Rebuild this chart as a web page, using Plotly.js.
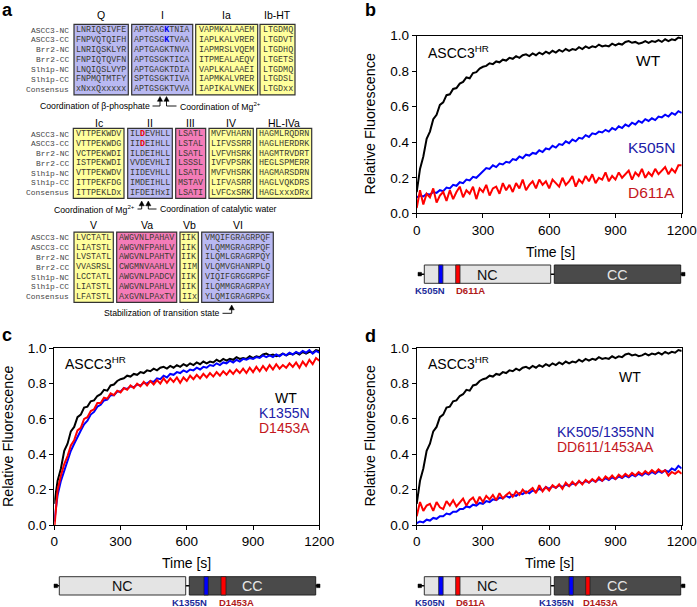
<!DOCTYPE html>
<html><head><meta charset="utf-8">
<script src="https://cdn.plot.ly/plotly-3.0.1.min.js"></script>
<style>html,body{margin:0;padding:0;background:#fff}#chart{width:697px;height:607px}</style>
</head><body><div id="chart"></div>
<script>
// ---------------- DATA ----------------
const time = [0,15,30,45,60,75,90,105,120,135,
150,165,180,195,210,225,240,255,270,285,
300,315,330,345,360,375,390,405,420,435,
450,465,480,495,510,525,540,555,570,585,
600,615,630,645,660,675,690,705,720,735,
750,765,780,795,810,825,840,855,870,885,
900,915,930,945,960,975,990,1005,1020,1035,
1050,1065,1080,1095,1110,1125,1140,1155,1170,1185,
1200];

const wt = [0.12,0.25,0.32,0.42,0.46,0.53,0.555,0.61,0.625,0.665,
0.67,0.70,0.705,0.73,0.74,0.765,0.76,0.79,0.795,0.815,
0.825,0.83,0.845,0.84,0.855,0.85,0.865,0.86,0.875,0.87,
0.885,0.875,0.89,0.895,0.885,0.90,0.89,0.905,0.895,0.91,
0.90,0.915,0.905,0.92,0.91,0.925,0.915,0.925,0.92,0.935,
0.925,0.94,0.93,0.94,0.935,0.95,0.94,0.945,0.94,0.955,
0.945,0.955,0.95,0.965,0.97,0.96,0.965,0.955,0.96,0.97,
0.96,0.97,0.965,0.975,0.965,0.98,0.97,0.98,0.975,0.99,
0.985];

const k505n = [0.09,0.10,0.095,0.11,0.105,0.12,0.115,0.13,0.125,0.145,
0.14,0.16,0.155,0.175,0.17,0.19,0.185,0.205,0.20,0.22,
0.235,0.255,0.25,0.27,0.26,0.28,0.275,0.29,0.285,0.305,
0.30,0.32,0.31,0.33,0.325,0.34,0.335,0.355,0.345,0.365,
0.36,0.38,0.37,0.39,0.385,0.405,0.395,0.415,0.405,0.425,
0.42,0.44,0.43,0.45,0.445,0.46,0.455,0.47,0.46,0.48,
0.47,0.49,0.48,0.50,0.49,0.51,0.50,0.52,0.51,0.53,
0.52,0.535,0.525,0.545,0.54,0.555,0.545,0.565,0.555,0.575,
0.565];

const d611a = [0.03,0.13,0.05,0.11,0.09,0.14,0.06,0.10,0.12,0.07,
0.13,0.08,0.12,0.15,0.09,0.13,0.11,0.15,0.08,0.14,
0.12,0.16,0.10,0.14,0.15,0.11,0.17,0.13,0.16,0.12,
0.17,0.14,0.19,0.13,0.16,0.18,0.14,0.19,0.16,0.18,
0.14,0.19,0.17,0.15,0.20,0.16,0.18,0.21,0.15,0.19,
0.17,0.21,0.18,0.22,0.17,0.20,0.19,0.23,0.18,0.21,
0.19,0.23,0.20,0.22,0.24,0.19,0.23,0.21,0.25,0.20,
0.23,0.21,0.25,0.22,0.24,0.26,0.22,0.25,0.23,0.27,
0.27];

const k1355n = [0.02,0.17,0.25,0.31,0.37,0.42,0.46,0.50,0.535,0.57,
0.59,0.625,0.64,0.67,0.68,0.705,0.71,0.735,0.735,0.755,
0.755,0.775,0.77,0.785,0.78,0.795,0.79,0.805,0.80,0.815,
0.81,0.83,0.825,0.845,0.835,0.855,0.85,0.865,0.86,0.875,
0.865,0.88,0.875,0.89,0.88,0.895,0.89,0.905,0.90,0.915,
0.905,0.92,0.915,0.93,0.92,0.935,0.925,0.94,0.935,0.945,
0.94,0.95,0.945,0.96,0.95,0.96,0.95,0.965,0.955,0.97,
0.96,0.975,0.965,0.98,0.97,0.985,0.975,0.99,0.97,0.985,
0.975];

const d1453a = [-0.02,0.20,0.28,0.345,0.39,0.45,0.48,0.535,0.55,0.60,
0.61,0.645,0.655,0.69,0.69,0.72,0.715,0.745,0.735,0.76,
0.75,0.775,0.765,0.79,0.775,0.80,0.785,0.81,0.79,0.815,
0.795,0.82,0.80,0.83,0.805,0.83,0.81,0.835,0.805,0.835,
0.815,0.845,0.825,0.85,0.83,0.855,0.835,0.86,0.84,0.865,
0.845,0.87,0.85,0.875,0.855,0.88,0.86,0.885,0.86,0.89,
0.865,0.895,0.87,0.90,0.875,0.905,0.88,0.91,0.885,0.905,
0.89,0.915,0.895,0.92,0.89,0.925,0.90,0.935,0.91,0.945,
0.93];

const kk505_1355nn = [0.01,0.02,0.015,0.03,0.025,0.04,0.035,0.05,0.05,0.065,
0.06,0.075,0.075,0.09,0.09,0.105,0.10,0.115,0.11,0.125,
0.12,0.135,0.13,0.145,0.14,0.155,0.15,0.165,0.155,0.17,
0.165,0.18,0.175,0.19,0.18,0.195,0.19,0.205,0.195,0.215,
0.205,0.22,0.21,0.225,0.215,0.23,0.22,0.235,0.23,0.245,
0.235,0.25,0.24,0.255,0.245,0.26,0.25,0.265,0.255,0.27,
0.26,0.275,0.265,0.28,0.27,0.285,0.275,0.29,0.28,0.295,
0.285,0.30,0.29,0.305,0.295,0.31,0.30,0.32,0.31,0.335,
0.32];

const dd611_1453aa = [0.05,0.13,0.08,0.11,0.12,0.08,0.13,0.10,0.09,0.135,
0.11,0.14,0.105,0.13,0.15,0.11,0.14,0.155,0.12,0.16,
0.13,0.165,0.145,0.17,0.14,0.18,0.15,0.17,0.185,0.16,
0.19,0.17,0.20,0.18,0.195,0.21,0.18,0.225,0.19,0.215,
0.195,0.225,0.21,0.23,0.205,0.24,0.22,0.245,0.225,0.25,
0.23,0.255,0.24,0.26,0.245,0.27,0.25,0.275,0.26,0.28,
0.26,0.285,0.27,0.29,0.275,0.295,0.28,0.30,0.285,0.305,
0.29,0.31,0.295,0.315,0.30,0.31,0.28,0.30,0.29,0.305,
0.29];

const xTicks = [0,300,600,900,1200];
const yTicks = [0,0.2,0.4,0.6,0.8,1.0];

// alignment (panel a)
const rowNames = ["ASCC3-NC","ASCC3-CC","Brr2-NC","Brr2-CC","Slh1p-NC","Slh1p-CC","Consensus"];
const motifNames = ["Q","I","Ia","Ib-HT","Ic","II","III","IV","HL-IVa","V","Va","Vb","VI"];
const seqQ = ["LNRIQSIVFE","FNPVQTQIFH","LNRIQSKLYR","FNPIQTQVFN","LNQIQSLVYP","FNPMQTMTFY","xNxxQxxxxx"];
const seqI = ["APTGAGKTNIA","APTGSGKTVAA","APTGAGKTNVA","APTGSGKTICA","APTGAGKTDIA","SPTGSGKTIVA","APTGSGKTVVA"];
const seqIa = ["VAPMKALAAEM","IAPLKALVRER","IAPMRSLVQEM","ITPMEALAEQV","VAPLKALAAEI","IAPMKALVRER","IAPIKALVNEK"];
const seqIbHT = ["LTGDMQ","LTGDVT","LTGDHQ","LTGETS","LTGDMQ","LTGDSL","LTGDxx"];
const seqIc = ["VTTPEKWDV","VTTPEKWDG","VCTPEKWDI","ISTPEKWDI","VTTPEKWDV","ITTPEKFDG","ITTPEKLDx"];
const seqII = ["ILDEVHLL","IIDEIHLL","ILDEIHLL","VVDEVHLI","IIDEVHLL","IMDEIHLL","IFDEIHxI"];
const seqIII = ["LSATL","LSTAL","LSATL","LSSSL","LSATL","MSTAV","LSATI"];
const seqIV = ["MVFVHARN","LIFVSSRR","LVFVHSRK","IVFVPSRK","MVFVHSRK","LIFVASRR","LVFCxSRK"];
const seqHLIVa = ["HAGMLRQDRN","HAGLHERDRK","HAGMTRVDRT","HEGLSPMERR","HAGMARSDRN","HAGLVQKDRS","HAGLxxxDRx"];
const seqV = ["LVCTATL","LIATSTL","LVSTATL","VVASRSL","LCCTATL","LIATSTL","LFATSTL"];
const seqVa = ["AWGVNLPAHAV","AWGVNFPAHLV","AWGVNLPAHTV","CWGMNVAAHLV","AWGVNLPADCV","AWGVNLPAHLV","AxGVNLPAxTV"];
const seqVb = ["IIK","IIK","IIK","IIM","IIK","IIK","IIx"];
const seqVI = ["VMQIFGRAGRPQF","VLQMMGRAGRPQF","ILQMLGRAGRPQY","VLQMVGHANRPLQ","VIQIFGRGGRPGF","ILQMMGRAGRPAY","YLQMIGRAGRPGx"];
const captions = ["Coordination of β-phosphate","Coordination of Mg<sup>2+</sup>","Coordination of Mg<sup>2+</sup>","Coordination of catalytic water","Stabilization of transition state"];

// ---------------- LAYOUT HELPERS ----------------
const W = 697, H = 607;
const X = x => x / W, Y = y => 1 - y / H;
const P = (x, y) => X(x) + ',' + Y(y);
const annotations = [];
const shapes = [];
const SANS = 'Liberation Sans, Arial, sans-serif';
const MONO = 'Liberation Mono, Courier New, monospace';
function txt(text, x, y, o) {
  o = o || {};
  annotations.push({
    text: text, xref: 'paper', yref: 'paper', x: X(x), y: Y(y),
    xanchor: o.xa || 'center', yanchor: o.ya || 'middle', showarrow: false,
    textangle: o.angle || 0,
    font: {family: o.family || SANS, size: o.size || 12, color: o.color || '#000'}
  });
}
function dtxt(text, ax, x, y, o) {
  o = o || {};
  annotations.push({
    text: text, xref: 'x' + ax, yref: 'y' + ax, x: x, y: y,
    xanchor: o.xa || 'center', yanchor: 'middle', showarrow: false,
    font: {family: SANS, size: o.size || 14, color: o.color || '#000'}
  });
}
function rect(x0, y0, x1, y1, fill, line, lw) {
  shapes.push({type: 'rect', xref: 'paper', yref: 'paper', x0: X(x0), x1: X(x1), y0: Y(y1), y1: Y(y0),
    fillcolor: fill, line: {color: line || fill, width: lw === undefined ? 1 : lw}});
}
function path(d, fill, lw) {
  shapes.push({type: 'path', xref: 'paper', yref: 'paper', path: d,
    fillcolor: fill || 'rgba(0,0,0,0)', line: {color: '#000', width: lw === undefined ? 0.9 : lw}});
}

// ---------------- PANEL A ----------------
const LAV = '#b9b9f2', YEL = '#ffff9c', PINK = '#f47cb8';
const seqSets = [seqQ, seqI, seqIa, seqIbHT, seqIc, seqII, seqIII, seqIV, seqHLIVa, seqV, seqVa, seqVb, seqVI];
const boxBlock = [0,0,0,0,1,1,1,1,1,2,2,2,2];
const boxX0 = [74,131.7,195.7,260, 73.3,127.7,175.7,209,256.7, 74,116.7,180,201.7];
const boxX1 = [128.3,192.7,257.7,295, 124,172.3,205.7,253.3,311.7, 113.3,176.7,198.3,273.3];
const boxFill = [LAV,LAV,YEL,YEL, YEL,LAV,PINK,YEL,YEL, YEL,PINK,YEL,LAV];
const blockTitleY = [15, 122.7, 225];
const blockRow0 = [30, 134, 237.7];
const blockDy = [9.88, 9.78, 9.83];
const highlights = [{box: 1, rows: [0,1], pos: 6, color: '#0000ee'}, {box: 5, rows: [0,1], pos: 2, color: '#ee0000'}];

for (let b = 0; b < 3; b++) {
  rowNames.forEach((n, r) => txt(n, 71, blockRow0[b] + r * blockDy[b], {xa: 'right', family: MONO, size: 7.9, color: '#444'}));
}
seqSets.forEach((seqs, i) => {
  const b = boxBlock[i];
  const top = blockRow0[b] - 5.6, bot = blockRow0[b] + 6 * blockDy[b] + 5.6;
  rect(boxX0[i], top, boxX1[i], bot, boxFill[i], '#333', 1.2);
  const cx = (boxX0[i] + boxX1[i]) / 2;
  txt(motifNames[i], cx, blockTitleY[b], {size: 10.5});
  seqs.forEach((s, r) => {
    let t = s;
    highlights.forEach(h => {
      if (h.box === i && h.rows.includes(r)) {
        t = s.slice(0, h.pos) + '<b><span style="color:' + h.color + '">' + s[h.pos] + '</span></b>' + s.slice(h.pos + 1);
      }
    });
    txt(t, cx, blockRow0[b] + r * blockDy[b], {family: MONO, size: 8.4, color: '#3a3a30'});
  });
});
// captions and arrows
function upArrow(x, tipY) {
  path('M' + P(x - 2.6, tipY + 4.8) + 'L' + P(x, tipY) + 'L' + P(x + 2.6, tipY + 4.8) + 'Z', '#000', 0.5);
}
txt(captions[0], 152, 106, {xa: 'right', size: 8.7});
txt(captions[1], 178, 106, {xa: 'left', size: 8.7});
path('M' + P(152.5, 106) + 'L' + P(160, 106) + 'L' + P(160, 99));
path('M' + P(166.5, 99) + 'L' + P(166.5, 106) + 'L' + P(176.5, 106));
upArrow(160, 96.5); upArrow(166.5, 96.5);

txt(captions[2], 136.7, 209, {xa: 'right', size: 8.7});
txt(captions[3], 158.3, 209, {xa: 'left', size: 8.7});
path('M' + P(137.5, 209) + 'L' + P(141.7, 209) + 'L' + P(141.7, 204));
path('M' + P(148.3, 204) + 'L' + P(148.3, 209) + 'L' + P(156.5, 209));
upArrow(141.7, 201); upArrow(148.3, 201);

txt(captions[4], 221.7, 313.3, {xa: 'right', size: 8.7});
path('M' + P(222.5, 313.3) + 'L' + P(231.7, 313.3) + 'L' + P(231.7, 308));
upArrow(231.7, 305);

// ---------------- PANEL LETTERS ----------------
txt('<b>a</b>', 0, 10, {xa: 'left', size: 18});
txt('<b>b</b>', 363, 10, {xa: 'left', size: 18});
txt('<b>c</b>', 0, 335, {xa: 'left', size: 18});
txt('<b>d</b>', 363, 336, {xa: 'left', size: 18});

// ---------------- AXIS TITLES ----------------
txt('Relative Fluorescence', 370, 124.6, {angle: -90, size: 14.3});
txt('Relative Fluorescence', 7.5, 436.6, {angle: -90, size: 14.3});
txt('Relative Fluorescence', 370, 436.6, {angle: -90, size: 14.3});
txt('Time [s]', 550, 251.7, {size: 14});
txt('Time [s]', 186.7, 563.3, {size: 14});
txt('Time [s]', 549.3, 563.3, {size: 14});

// ---------------- IN-PLOT LABELS ----------------
const BLUE_T = '#2020a8', RED_T = '#c4161c';
dtxt('ASCC3<sup>HR</sup>', '', 40, 0.91, {xa: 'left', size: 14});
dtxt('WT', '', 1114, 0.86, {xa: 'right', size: 15.5});
dtxt('K505N', '', 1178, 0.37, {xa: 'right', size: 15.5, color: BLUE_T});
dtxt('D611A', '', 1178, 0.115, {xa: 'right', size: 15.5, color: RED_T});

dtxt('ASCC3<sup>HR</sup>', '2', 40, 0.915, {xa: 'left', size: 14});
dtxt('WT', '2', 1049, 0.72, {size: 14});
dtxt('K1355N', '2', 1166, 0.634, {xa: 'right', size: 14, color: BLUE_T});
dtxt('D1453A', '2', 1166, 0.549, {xa: 'right', size: 14, color: RED_T});

dtxt('ASCC3<sup>HR</sup>', '3', 40, 0.915, {xa: 'left', size: 14});
dtxt('WT', '3', 966, 0.84, {size: 14});
dtxt('KK505/1355NN', '3', 1084, 0.526, {xa: 'right', size: 14, color: BLUE_T});
dtxt('DD611/1453AA', '3', 1084, 0.442, {xa: 'right', size: 14, color: RED_T});

// ---------------- DOMAIN BARS ----------------
const BLUE_L = '#1a2a9a', RED_L = '#b01a1a';
function domainBar(lineX0, lineX1, top, bot, ncX0, ncX1, ccX0, ccX1, stripes, labels, labY) {
  const cy = (top + bot) / 2;
  path('M' + P(lineX0, cy) + 'L' + P(lineX1, cy), null, 1.5);
  rect(lineX0, cy - 1.8, lineX0 + 3.5, cy + 1.8, '#000', '#000', 0.5);
  rect(lineX1 - 3.5, cy - 1.8, lineX1, cy + 1.8, '#000', '#000', 0.5);
  rect(ncX0, top, ncX1, bot, '#e4e4e4', '#333', 1);
  rect(ccX0, top, ccX1, bot, '#4a4a4a', '#222', 1);
  stripes.forEach(s => rect(s[0], top, s[1], bot, s[2], '#222', 0.8));
  txt('NC', (ncX0 + ncX1) / 2, cy + 0.5, {size: 14.3, color: '#111'});
  txt('CC', (ccX0 + ccX1) / 2, cy + 0.5, {size: 14.3, color: '#e6e6e6'});
  labels.forEach(l => txt('<b>' + l[0] + '</b>', l[1], labY, {size: 9.5, color: l[2]}));
}
domainBar(418, 685, 265, 283.3, 424.3, 550.7, 554.3, 680.7,
  [[438.7, 442.9, '#0000ff'], [455.7, 460, '#ff0000']],
  [['K505N', 430, BLUE_L], ['D611A', 470, RED_L]], 290.5);
domainBar(54, 320, 576.7, 595, 59.3, 185.7, 189.3, 315.7,
  [[204, 208.3, '#0000ff'], [221, 226, '#ff0000']],
  [['K1355N', 189, BLUE_L], ['D1453A', 236, RED_L]], 602.5);
domainBar(418, 685, 576.7, 595, 424.3, 550.7, 554.3, 680.7,
  [[438.7, 443.1, '#0000ff'], [455.7, 460, '#ff0000'], [569, 573.3, '#0000ff'], [585.7, 590, '#ff0000']],
  [['K505N', 430, BLUE_L], ['D611A', 470, RED_L], ['K1355N', 556.7, BLUE_L], ['D1453A', 600, RED_L]], 602.5);

// ---------------- AXES ----------------
function xa(x0, x1, anchor) {
  return {domain: [X(x0), X(x1)], anchor: anchor, range: [0, 1200], tickvals: xTicks, ticks: 'outside', ticklen: 4,
    tickwidth: 1, tickcolor: '#000', showline: true, mirror: true, linecolor: '#000', linewidth: 1,
    showgrid: false, zeroline: false, tickfont: {family: SANS, size: 13.5, color: '#000'}, fixedrange: true};
}
function ya(y0, y1, anchor) {
  return {domain: [Y(y1), Y(y0)], anchor: anchor, range: [0, 1], tickvals: yTicks, tickformat: '.1f', ticks: 'outside', ticklen: 4,
    tickwidth: 1, tickcolor: '#000', showline: true, mirror: true, linecolor: '#000', linewidth: 1,
    showgrid: false, zeroline: false, tickfont: {family: SANS, size: 13.5, color: '#000'}, fixedrange: true};
}

function tr(y, color, ax) {
  return {x: time, y: y, type: 'scatter', mode: 'lines', xaxis: 'x' + ax, yaxis: 'y' + ax,
    line: {color: color, width: 2}, hoverinfo: 'skip'};
}
const data = [
  tr(wt, '#000', ''), tr(k505n, '#0000ff', ''), tr(d611a, '#ff0000', ''),
  tr(wt, '#000', '2'), tr(k1355n, '#0000ff', '2'), tr(d1453a, '#ff0000', '2'),
  tr(wt, '#000', '3'), tr(kk505_1355nn, '#0000ff', '3'), tr(dd611_1453aa, '#ff0000', '3')
];

const layout = {
  width: W, height: H, margin: {l: 0, r: 0, t: 0, b: 0}, showlegend: false,
  paper_bgcolor: '#fff', plot_bgcolor: '#fff', font: {family: SANS, color: '#000'},
  xaxis: xa(416.7, 681.7, 'y'), yaxis: ya(35.7, 213.3, 'x'),
  xaxis2: xa(54.3, 319.3, 'y2'), yaxis2: ya(348.3, 525, 'x2'),
  xaxis3: xa(416.7, 681.7, 'y3'), yaxis3: ya(348.3, 525, 'x3'),
  annotations: annotations, shapes: shapes
};
Plotly.newPlot('chart', data, layout, {displayModeBar: false, staticPlot: true});
</script>
</body></html>
